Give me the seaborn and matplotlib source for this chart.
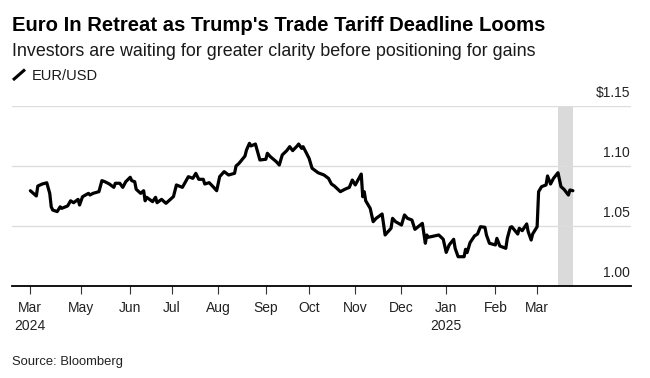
import pandas as pd
import seaborn as sns
import matplotlib.pyplot as plt
from matplotlib.lines import Line2D

# EUR/USD
dates = [
    "2024-03-28", "2024-04-01", "2024-04-02", "2024-04-05", "2024-04-08", "2024-04-10",
    "2024-04-11", "2024-04-12", "2024-04-15", "2024-04-17", "2024-04-18", "2024-04-22",
    "2024-04-24", "2024-04-26", "2024-04-29", "2024-04-30", "2024-05-02", "2024-05-06",
    "2024-05-07", "2024-05-09", "2024-05-13", "2024-05-15", "2024-05-17", "2024-05-20",
    "2024-05-23", "2024-05-24", "2024-05-27", "2024-05-29", "2024-05-31", "2024-06-03",
    "2024-06-04", "2024-06-06", "2024-06-07", "2024-06-10", "2024-06-12", "2024-06-13",
    "2024-06-14", "2024-06-18", "2024-06-20", "2024-06-21", "2024-06-24", "2024-06-27",
    "2024-07-02", "2024-07-04", "2024-07-08", "2024-07-12", "2024-07-15", "2024-07-17",
    "2024-07-19", "2024-07-22", "2024-07-23", "2024-07-26", "2024-07-29", "2024-07-31",
    "2024-08-02", "2024-08-05", "2024-08-08", "2024-08-12", "2024-08-13", "2024-08-15",
    "2024-08-19", "2024-08-20", "2024-08-22", "2024-08-23", "2024-08-26", "2024-08-29",
    "2024-09-02", "2024-09-03", "2024-09-05", "2024-09-09", "2024-09-11", "2024-09-13",
    "2024-09-16", "2024-09-18", "2024-09-20", "2024-09-23", "2024-09-24", "2024-09-26",
    "2024-09-27", "2024-10-01", "2024-10-03", "2024-10-07", "2024-10-11", "2024-10-14",
    "2024-10-16", "2024-10-18", "2024-10-22", "2024-10-25", "2024-10-28", "2024-10-30",
    "2024-11-01", "2024-11-05", "2024-11-06", "2024-11-07", "2024-11-08", "2024-11-11",
    "2024-11-13", "2024-11-15", "2024-11-19", "2024-11-21", "2024-11-25", "2024-11-26",
    "2024-11-28", "2024-12-02", "2024-12-04", "2024-12-06", "2024-12-09", "2024-12-11",
    "2024-12-16", "2024-12-18", "2024-12-19", "2024-12-20", "2024-12-24", "2024-12-27",
    "2024-12-30", "2025-01-01", "2025-01-03", "2025-01-06", "2025-01-07", "2025-01-09",
    "2025-01-13", "2025-01-14", "2025-01-15", "2025-01-17", "2025-01-20", "2025-01-22",
    "2025-01-24", "2025-01-27", "2025-01-28", "2025-01-30", "2025-02-03", "2025-02-04",
    "2025-02-06", "2025-02-10", "2025-02-11", "2025-02-13", "2025-02-14", "2025-02-18",
    "2025-02-19", "2025-02-21", "2025-02-24", "2025-02-25", "2025-02-27", "2025-02-28",
    "2025-03-03", "2025-03-04", "2025-03-06", "2025-03-09", "2025-03-10", "2025-03-12",
    "2025-03-14", "2025-03-17", "2025-03-19", "2025-03-21", "2025-03-24", "2025-03-25",
    "2025-03-27",
]
eurusd = [
    1.0794, 1.0750, 1.0833, 1.0850, 1.0860, 1.0772,
    1.0660, 1.0633, 1.0620, 1.0660, 1.0647, 1.0667,
    1.0710, 1.0694, 1.0722, 1.0675, 1.0744, 1.0772,
    1.0758, 1.0772, 1.0786, 1.0878, 1.0869, 1.0850,
    1.0822, 1.0856, 1.0856, 1.0822, 1.0869, 1.0906,
    1.0878, 1.0869, 1.0806, 1.0772, 1.0794, 1.0710,
    1.0739, 1.0703, 1.0739, 1.0694, 1.0722, 1.0689,
    1.0745, 1.0842, 1.0822, 1.0911, 1.0897, 1.0939,
    1.0889, 1.0889, 1.0850, 1.0861, 1.0822, 1.0794,
    1.0911, 1.0953, 1.0925, 1.0939, 1.1000, 1.1022,
    1.1083, 1.1133, 1.1189, 1.1167, 1.1183, 1.1050,
    1.1056, 1.1106, 1.1078, 1.1036, 1.1008, 1.1092,
    1.1128, 1.1161, 1.1128, 1.1167, 1.1183, 1.1147,
    1.1161, 1.1064, 1.0981, 1.0944, 1.0925, 1.0897,
    1.0850, 1.0833, 1.0786, 1.0806, 1.0822, 1.0883,
    1.0842, 1.0933, 1.0744, 1.0786, 1.0710, 1.0647,
    1.0536, 1.0564, 1.0600, 1.0425, 1.0481, 1.0564,
    1.0536, 1.0508, 1.0592, 1.0564, 1.0550, 1.0472,
    1.0522, 1.0356, 1.0425, 1.0406, 1.0417, 1.0425,
    1.0390, 1.0280, 1.0342, 1.0389, 1.0314, 1.0244,
    1.0244, 1.0306, 1.0278, 1.0361, 1.0417, 1.0433,
    1.0494, 1.0489, 1.0425, 1.0356, 1.0342, 1.0397,
    1.0333, 1.0314, 1.0397, 1.0489, 1.0494, 1.0433,
    1.0481, 1.0461, 1.0517, 1.0453, 1.0383, 1.0433,
    1.0494, 1.0786, 1.0828, 1.0842, 1.0917, 1.0850,
    1.0897, 1.0944, 1.0828, 1.0806, 1.0758, 1.0800,
    1.0794,
]

tick_dates = ["2024-03-28", "2024-05-01", "2024-06-03", "2024-07-01", "2024-08-01",
              "2024-09-02", "2024-10-01", "2024-11-01", "2024-12-02", "2025-01-01",
              "2025-02-03", "2025-03-03"]
tick_labels = ["Mar\n2024", "May", "Jun", "Jul", "Aug", "Sep", "Oct", "Nov", "Dec",
               "Jan\n2025", "Feb", "Mar"]
y_ticks = [1.00, 1.05, 1.10, 1.15]
y_labels = ["1.00", "1.05", "1.10", "$1.15"]
shade_start, shade_end = "2025-03-17", "2025-03-27"
x_range = ("2024-03-16", "2025-05-05")

df = pd.DataFrame({"date": pd.to_datetime(dates), "rate": eurusd})

sns.set_theme(style="white")
plt.rcParams["font.family"] = ["Liberation Sans", "DejaVu Sans"]

fig = plt.figure(figsize=(6.5, 3.78), dpi=100)
ax = fig.add_axes([0.0192, 0.2434, 0.9516, 0.4762])

ax.axvspan(pd.Timestamp(shade_start), pd.Timestamp(shade_end), color="#dadada", lw=0, zorder=0)
sns.lineplot(data=df, x="date", y="rate", color="black", linewidth=2.3, ax=ax, zorder=3)

ax.set_xlim(pd.Timestamp(x_range[0]), pd.Timestamp(x_range[1]))
ax.set_ylim(y_ticks[0], y_ticks[-1])
ax.set_xlabel("")
ax.set_ylabel("")

# gridlines + labels sitting above them on the right
ax.set_yticks(y_ticks)
ax.tick_params(axis="y", length=0, labelleft=False)
ax.yaxis.grid(True, color="#dddddd", linewidth=1)
ax.set_axisbelow(True)
for v, lab in zip(y_ticks, y_labels):
    ax.annotate(lab, xy=(1, v), xycoords=("axes fraction", "data"),
                xytext=(-1, 6), textcoords="offset pixels",
                ha="right", va="bottom", fontsize=10, color="#222222")

ax.set_xticks(pd.to_datetime(tick_dates))
ax.set_xticklabels(tick_labels)
ax.tick_params(axis="x", length=6, width=0.8, color="#333333", pad=5,
               labelsize=10, labelcolor="#222222", bottom=True)
for t in ax.get_xticklabels():
    t.set_linespacing(1.3)

for s in ["top", "left", "right"]:
    ax.spines[s].set_visible(False)
ax.spines["bottom"].set_color("black")
ax.spines["bottom"].set_linewidth(1.3)
ax.spines["bottom"].set_zorder(4)

# header text
fig.text(0.0185, 1 - 31 / 378, "Euro In Retreat as Trump's Trade Tariff Deadline Looms",
         fontsize=14.6, fontweight="bold", color="black", va="baseline")
fig.text(0.0185, 1 - 56 / 378, "Investors are waiting for greater clarity before positioning for gains",
         fontsize=12.9, color="#1a1a1a", va="baseline")
fig.add_artist(Line2D([13 / 650, 25 / 650], [1 - 80 / 378, 1 - 69.5 / 378],
                      transform=fig.transFigure, color="black", linewidth=2.2,
                      solid_capstyle="butt"))
fig.text(32 / 650, 1 - 80 / 378, "EUR/USD", fontsize=10.5, color="#1a1a1a", va="baseline")
fig.text(0.0185, 1 - 365.5 / 378, "Source: Bloomberg", fontsize=9.4, color="#222222", va="baseline")

fig.savefig("out.png", dpi=100)
